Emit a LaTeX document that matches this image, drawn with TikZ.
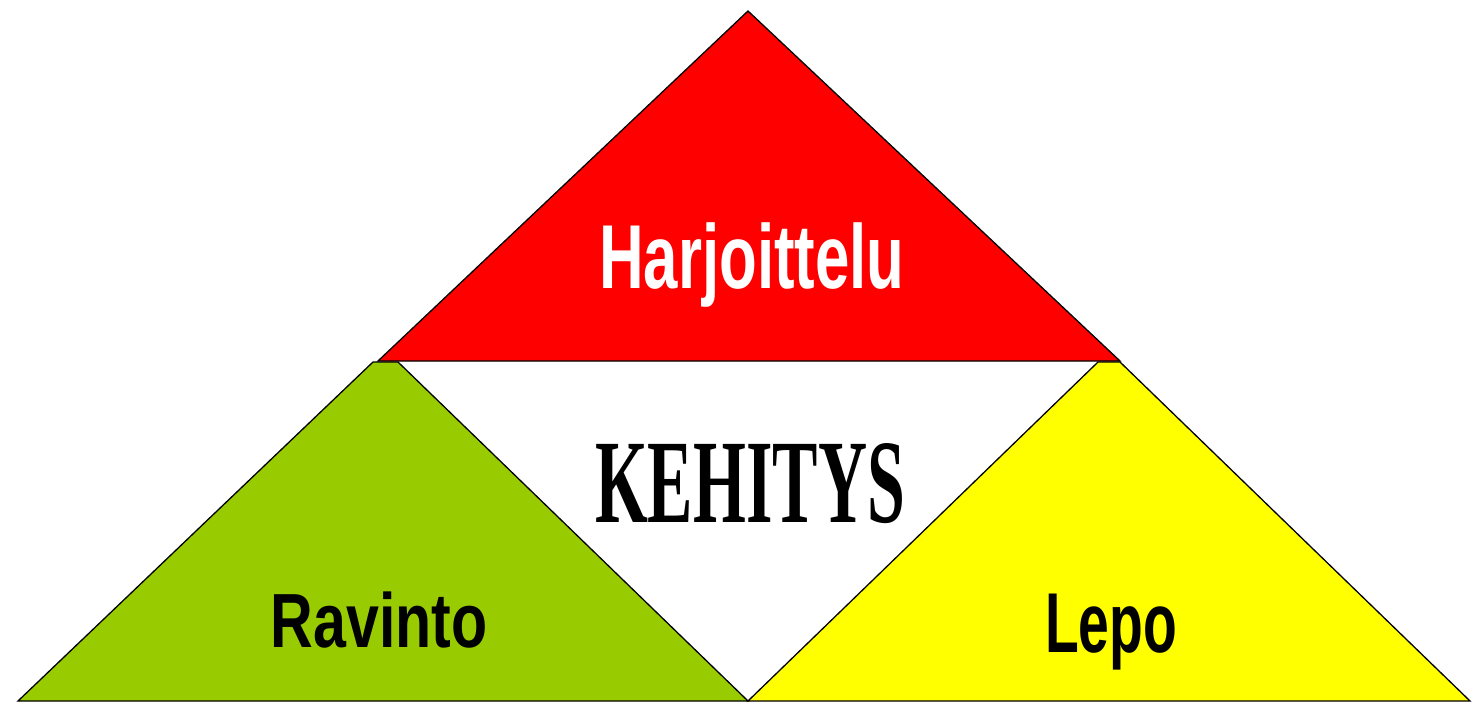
\documentclass[tikz,border=0pt]{standalone}
\usepackage{fontspec}
\usepackage{graphicx}
\usepackage{xcolor}
\newfontfamily\tagfont{Liberation Sans}
\newfontfamily\titlefont{Liberation Serif}
\definecolor{trired}{RGB}{255,0,0}
\definecolor{trigreen}{RGB}{153,204,0}
\definecolor{triyellow}{RGB}{255,255,0}

\begin{document}
\begin{tikzpicture}[x=1pt, y=-1pt,
  piece/.style={draw=black, line width=1.3pt, line join=miter},
  tag/.style={anchor=base, inner sep=0pt, font=\tagfont\bfseries}]

\useasboundingbox (0,0) rectangle (1476,705);

% lower pieces first, flat tops tucked under the red base
\filldraw[piece, fill=trigreen]  (18,701) -- (748,701) -- (398,362) -- (373,362) -- cycle;
\filldraw[piece, fill=triyellow] (748,701) -- (1470,701) -- (1120,362) -- (1098,362) -- cycle;
\filldraw[piece, fill=trired]    (748,11) -- (1120,361) -- (378,361) -- cycle;

\node[tag, white] (harj) at (752,288) {\fontsize{90.8}{90}\selectfont\scalebox{0.68}[1]{Harjoittelu}};
\node[tag, black] (ravi) at (379,647) {\fontsize{76.8}{76}\selectfont\scalebox{0.77}[1]{Ravinto}};
\node[tag, black] (lepo) at (1111,652) {\fontsize{85}{85}\selectfont\scalebox{0.65}[1]{Lepo}};
\node[anchor=base, inner sep=0pt, font=\titlefont\bfseries] (kehi) at (750,522)
  {\fontsize{119.3}{119}\selectfont\scalebox{0.57}[1]{KEHITYS}};

\end{tikzpicture}
\end{document}
